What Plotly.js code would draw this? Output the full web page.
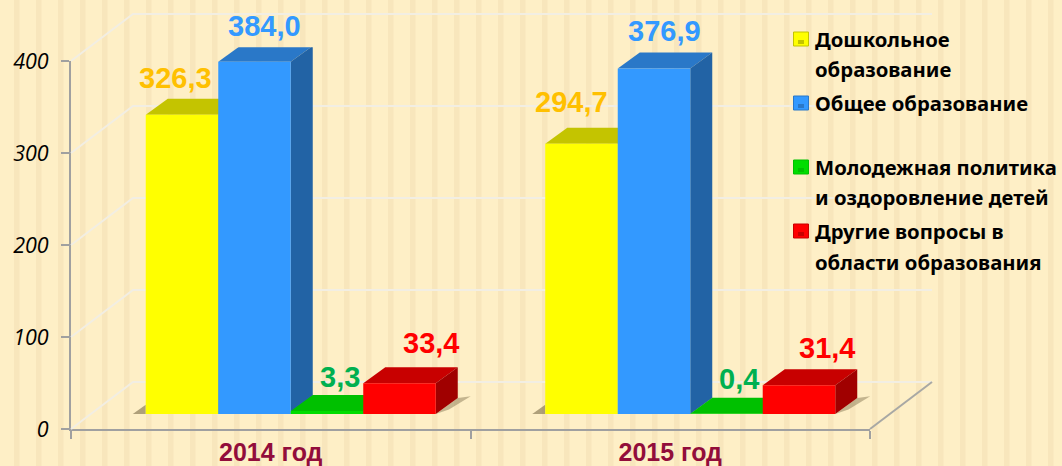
<!DOCTYPE html>
<html><head><meta charset="utf-8">
<script src="https://cdn.plot.ly/plotly-3.0.1.min.js"></script>
<style>html,body{margin:0;padding:0;background:#feefc6}</style></head>
<body><div id="c" style="width:1062px;height:466px"></div>
<script>
var categories=["2014 год","2015 год"];
var seriesNames=["Дошкольное образование","Общее образование","Молодежная политика и оздоровление детей","Другие вопросы в области образования"];
var preschool=[326.3,294.7];
var general=[384.0,376.9];
var youth=[3.3,0.4];
var other=[33.4,31.4];
var yTicks=[0,100,200,300,400];

var W=1062,H=466;
var L=71,R=870,B=429,T=61;        // front axis frame, px
var depthX=62,depthY=47;          // wall depth, px
var barShiftX=20,barBase=414;     // bars sit inside the floor
var barScale=0.917;               // px per unit for the bars
var pxPerCat=(R-L)/2,pxPerUnit=(B-T)/400;
var barPx=72.5,sideX=22,sideY=16;
var bw=barPx/pxPerCat,dx=sideX/pxPerCat,dy=sideY/barScale;
var pad=4;

var all=[preschool,general,youth,other];
var front=["#ffff00","#3399ff","#00dd00","#ff0000"];
var topC=["#c4c400","#2a78c8","#00c000","#c80000"];
var sideC=["#a8a800","#2263a5","#009000","#a00000"];
var labelC=["#ffc000","#3399ff","#00b050","#ff0000"];
var fmt=function(v){return v.toFixed(1).replace(".",",");};

var dom=function(a,b){return [a/W,b/W];}, domY=function(a,b){return [(H-a)/H,(H-b)/H];};
var traces=[];

// walls and gridlines, from tick values, on their own wider axes
var gx=[],gy=[];
var wx=depthX/pxPerCat,wy=depthY/pxPerUnit;
yTicks.forEach(function(t){gx.push(-0.5,-0.5+wx,1.5+wx,null);gy.push(t,t+wy,t+wy,null);});
traces.push({type:"scatter",mode:"lines",x:gx,y:gy,xaxis:"x2",yaxis:"y2",line:{color:"#f2eee3",width:2},hoverinfo:"skip",showlegend:false});
traces.push({type:"scatter",mode:"lines",x:[1.5,1.5+wx],y:[0,wy],xaxis:"x2",yaxis:"y2",line:{color:"#a8a8a4",width:2},hoverinfo:"skip",showlegend:false});

// shadows on the floor
var shadow="rgba(110,95,60,0.55)";
[0,1].forEach(function(c){
  var xl=c-2*bw, xr=c+2*bw;
  traces.push({type:"scatter",mode:"lines",fill:"toself",x:[xl,xl-13/pxPerCat,xl,xl],y:[0,0,10,0],xaxis:"x3",yaxis:"y3",fillcolor:shadow,line:{width:0},hoverinfo:"skip",showlegend:false});
  traces.push({type:"scatter",mode:"lines",fill:"toself",x:[xr,xr+dx,xr+dx+13/pxPerCat,xr+dx*0.6,xr],y:[0,dy,dy+2,5,0],xaxis:"x3",yaxis:"y3",fillcolor:"rgba(110,95,60,0.4)",line:{width:0},hoverinfo:"skip",showlegend:false});
});

// bar side and top faces
all.forEach(function(vals,s){
  vals.forEach(function(v,c){
    var x0=c+(s-2)*bw,x1=x0+bw;
    traces.push({type:"scatter",mode:"lines",fill:"toself",x:[x0,x0+dx,x1+dx,x1,x0],y:[v,v+dy,v+dy,v,v],xaxis:"x3",yaxis:"y3",fillcolor:topC[s],line:{width:0,color:topC[s]},hoverinfo:"skip",showlegend:false});
    traces.push({type:"scatter",mode:"lines",fill:"toself",x:[x1,x1+dx,x1+dx,x1,x1],y:[v,v+dy,dy,0,v],xaxis:"x3",yaxis:"y3",fillcolor:sideC[s],line:{width:0,color:sideC[s]},hoverinfo:"skip",showlegend:false});
  });
});

// front faces
all.forEach(function(vals,s){
  traces.push({type:"bar",name:seriesNames[s],x:[0,1],y:vals,xaxis:"x4",yaxis:"y4",marker:{color:front[s]},showlegend:false});
});

// value labels
var labelDx=[[-7,9.5,13,31],[-10,10,12.5,27.5]];
var labelDy=[[37,36,34,40],[42,37,35,37]];
var annotations=[];
all.forEach(function(vals,s){
  vals.forEach(function(v,c){
    annotations.push({xref:"x3",yref:"y3",x:c+(s-2)*bw+bw/2,y:v,xshift:labelDx[c][s],yshift:labelDy[c][s],text:"<b>"+fmt(v)+"</b>",showarrow:false,font:{family:"Liberation Sans",size:29,color:labelC[s]}});
  });
});

// legend as text with swatches
var legendLines=[["Дошкольное","образование"],["Общее образование"],["Молодежная политика","и оздоровление детей"],["Другие вопросы в","области образования"]];
var legendY=[39,103,167,231];
var swatchY=[39,103,167,231];
var shapes=[];
// background stripes
for(var sx=14;sx<W;sx+=22){shapes.push({type:"rect",xref:"paper",yref:"paper",x0:sx/W,x1:(sx+5.5)/W,y0:0,y1:1,fillcolor:"#f8e6bc",line:{width:0},layer:"below"});}
legendLines.forEach(function(lines,i){
  lines.forEach(function(t,j){
    annotations.push({xref:"paper",yref:"paper",x:812.5/W,y:(H-(legendY[i]+j*30.5))/H,xanchor:"left",yanchor:"middle",text:"<b>"+t+"</b>",showarrow:false,font:{family:"Noto Sans, Open Sans",size:20.3,color:"#000"}});
  });
  var sy=swatchY[i];
  shapes.push({type:"rect",xref:"paper",yref:"paper",x0:793.5/W,x1:808.5/W,y0:(H-(sy-7))/H,y1:(H-(sy+7))/H,fillcolor:front[i],line:{color:topC[i],width:1},layer:"above"});
  shapes.push({type:"rect",xref:"paper",yref:"paper",x0:798/W,x1:804/W,y0:(H-(sy+1))/H,y1:(H-(sy+5))/H,fillcolor:topC[i],line:{width:0},layer:"above"});
});

var layout={
  width:W,height:H,margin:{l:0,r:0,t:0,b:0},paper_bgcolor:"#feefc6",plot_bgcolor:"rgba(0,0,0,0)",
  barmode:"group",bargap:1-4*barPx/pxPerCat,bargroupgap:0,showlegend:false,
  xaxis:{domain:dom(L,R),type:"category",categoryorder:"array",categoryarray:categories,range:[-0.5,1.5],tickson:"boundaries",ticks:"outside",ticklen:8,tickwidth:2,tickcolor:"#a0a0a0",showline:true,linecolor:"#a0a0a0",linewidth:2,showgrid:false,zeroline:false,ticklabelstandoff:0,tickfont:{family:"Liberation Sans",size:25,weight:"bold",color:"#920d3b"},anchor:"y"},
  yaxis:{domain:domY(B,T),range:[0,400],tickmode:"array",tickvals:yTicks,ticks:"outside",ticklen:8,tickwidth:2,tickcolor:"#a0a0a0",showline:true,linecolor:"#a0a0a0",linewidth:2,showgrid:false,zeroline:false,ticklabelstandoff:8,tickfont:{family:"Open Sans",size:21.5,style:"italic",color:"#000"},anchor:"x"},
  xaxis2:{domain:dom(L-pad,R+depthX+pad),range:[-0.5-pad/pxPerCat,1.5+wx+pad/pxPerCat],visible:false,anchor:"y2"},
  yaxis2:{domain:domY(B+pad,T-depthY-pad),range:[-pad/pxPerUnit,400+wy+pad/pxPerUnit],visible:false,anchor:"x2"},
  xaxis3:{domain:dom(L+barShiftX,R+barShiftX),range:[-0.5,1.5],visible:false,anchor:"y3"},
  yaxis3:{domain:domY(barBase,barBase-400*barScale),range:[0,400],visible:false,anchor:"x3"},
  xaxis4:{domain:dom(L+barShiftX,R+barShiftX),range:[-0.5,1.5],visible:false,anchor:"y4"},
  yaxis4:{domain:domY(barBase,barBase-400*barScale),range:[0,400],visible:false,anchor:"x4"},
  annotations:annotations,shapes:shapes
};
// main axes carry the category and value scale
traces.unshift({type:"scatter",mode:"none",x:categories,y:[0,0],xaxis:"x",yaxis:"y",hoverinfo:"skip",showlegend:false});
Plotly.newPlot("c",traces,layout,{displayModeBar:false,staticPlot:true});
</script></body></html>
